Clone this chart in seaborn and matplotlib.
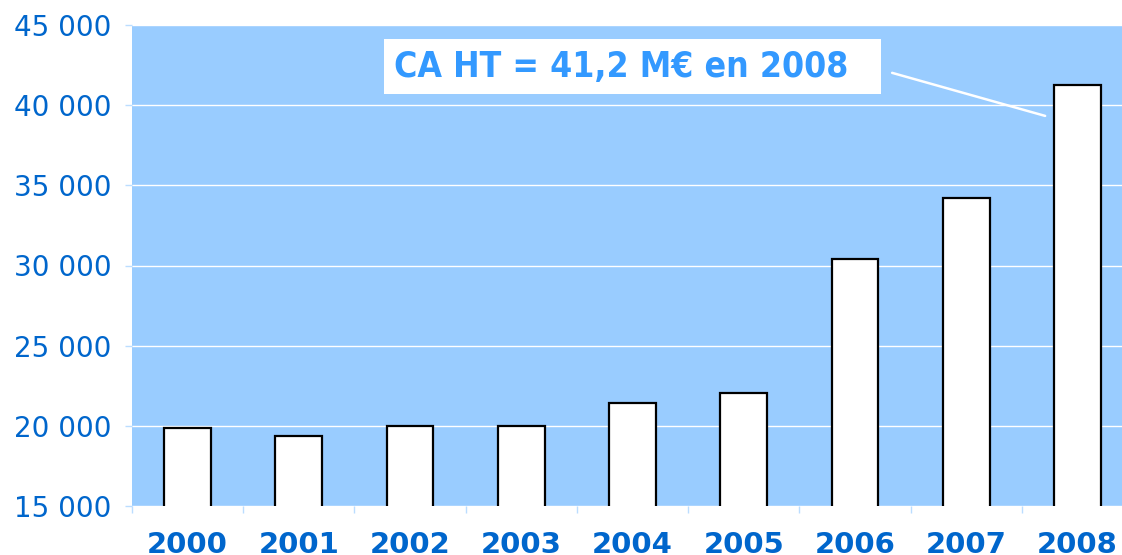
import matplotlib
matplotlib.use("Agg")
import matplotlib.pyplot as plt
import matplotlib.ticker as mticker
import seaborn as sns
import pandas as pd

years = ["2000", "2001", "2002", "2003", "2004", "2005", "2006", "2007", "2008"]
ca_ht = [19870, 19370, 20020, 20020, 21430, 22050, 30410, 34210, 41280]
y_ticks = [15000, 20000, 25000, 30000, 35000, 40000, 45000]
note_text = "CA HT = 41,2 M€ en 2008"

BG = "#99CCFF"
LABEL = "#0066CC"
NOTE = "#3399FF"

sns.set_theme(style="white")
plt.rcParams["font.family"] = ["DejaVu Sans"]

df = pd.DataFrame({"year": years, "ca": ca_ht})

fig = plt.figure(figsize=(11.22, 5.55), dpi=100)
ax = fig.add_axes([132 / 1122, 49 / 555, 1001 / 1122, 481 / 555])
ax.set_facecolor(BG)

sns.barplot(data=df, x="year", y="ca", color="white", edgecolor="black",
            linewidth=1.6, width=0.42, saturation=1, ax=ax, zorder=3)

ax.set_xlim(-0.5, len(years) - 0.5)
ax.set_ylim(y_ticks[0], y_ticks[-1])
ax.set_yticks(y_ticks)
ax.yaxis.set_major_formatter(mticker.FuncFormatter(lambda v, p: f"{int(v):,}".replace(",", " ")))
ax.grid(axis="y", color="white", linewidth=1.0, zorder=1)
ax.set_axisbelow(True)
for s in ax.spines.values():
    s.set_visible(False)

ax.set_xlabel("")
ax.set_ylabel("")
ax.tick_params(axis="y", which="major", left=True, length=5, width=1, color="#BBDDFF",
               labelsize=20, labelcolor=LABEL, pad=10)
ax.tick_params(axis="x", which="major", bottom=False, length=0, labelsize=21,
               labelcolor=LABEL, pad=18)
for t in ax.get_xticklabels():
    t.set_fontweight("bold")
ax.set_xticks([i + 0.5 for i in range(-1, len(years))], minor=True)
ax.tick_params(axis="x", which="minor", bottom=True, length=5, width=1, color="#BBDDFF")

last = len(years) - 1
ax.annotate(note_text + "  ", xy=(last - 0.29, ca_ht[-1] - 1950),
            xytext=(4.0, 42390), textcoords="data",
            ha="center", va="center", fontsize=25.5, fontweight="bold",
            fontstretch="condensed", color=NOTE,
            bbox=dict(boxstyle="square,pad=0.3", fc="white", ec="none"),
            arrowprops=dict(arrowstyle="-", color="white", lw=1.8,
                            relpos=(1, 0.5), shrinkA=8, shrinkB=0),
            zorder=5)

fig.savefig("out.png", dpi=100)
